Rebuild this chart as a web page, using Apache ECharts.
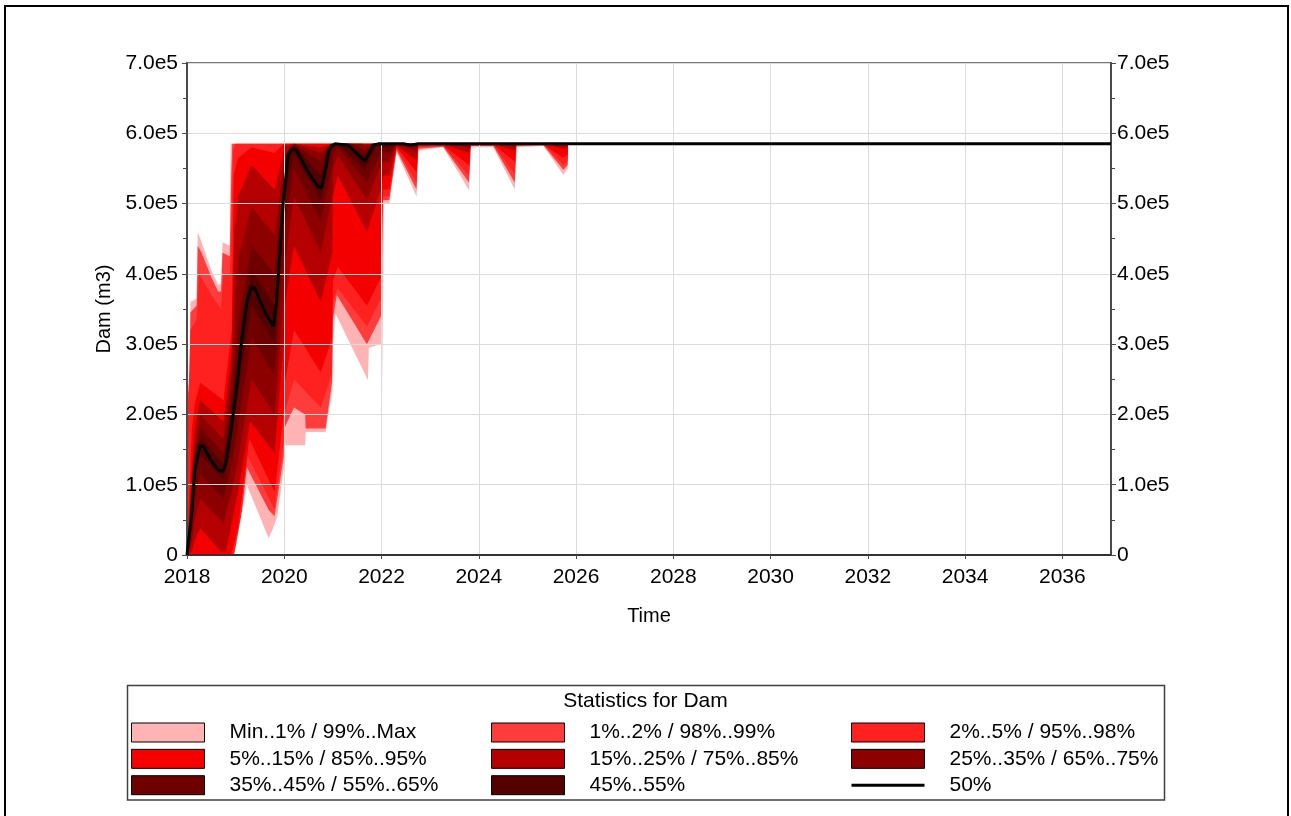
<!DOCTYPE html>
<html>
<head>
<meta charset="utf-8">
<script src="https://cdn.jsdelivr.net/npm/echarts@6/dist/echarts.min.js"></script>
<style>
  html, body { margin: 0; padding: 0; background: #ffffff; }
  #chart { width: 1291px; height: 816px; }
</style>
</head>
<body>
<div id="chart"></div>
<script>
// Dam storage (m3) over time: percentile envelopes of the simulation runs.
// Each curve is a list of [year, volume] points.
const pMax = [[2018.00,0],[2018.02,240000],[2018.06,250000],[2018.07,360000],[2018.20,365000],[2018.22,460000],[2018.30,445000],[2018.50,405000],[2018.64,385000],[2018.70,385000],[2018.73,445000],[2018.88,440000],[2018.90,585000],[2037.00,585000]];
const p99 = [[2018.00,0],[2018.02,230000],[2018.06,240000],[2018.07,345000],[2018.20,355000],[2018.22,440000],[2018.30,430000],[2018.50,395000],[2018.64,375000],[2018.70,375000],[2018.73,430000],[2018.88,425000],[2018.91,540000],[2018.93,585000],[2037.00,585000]];
const p98 = [[2018.00,0],[2018.02,200000],[2018.07,320000],[2018.20,335000],[2018.25,400000],[2018.50,370000],[2018.70,350000],[2018.75,400000],[2018.88,400000],[2018.92,480000],[2018.95,575000],[2019.00,585000],[2037.00,585000]];
const p95 = [[2018.00,0],[2018.10,180000],[2018.16,215000],[2018.27,245000],[2018.75,220000],[2018.92,320000],[2018.96,540000],[2019.05,565000],[2019.33,580000],[2019.80,572000],[2019.99,585000],[2037.00,585000]];
const p85 = [[2018.00,0],[2018.10,120000],[2018.16,180000],[2018.27,220000],[2018.75,190000],[2018.92,290000],[2018.97,460000],[2019.05,510000],[2019.33,555000],[2019.80,520000],[2019.99,575000],[2020.02,582000],[2020.20,585000],[2020.75,580000],[2020.99,585000],[2037.00,585000]];
const p75 = [[2018.00,0],[2018.10,95000],[2018.16,160000],[2018.27,200000],[2018.75,165000],[2018.92,260000],[2019.00,380000],[2019.05,420000],[2019.33,495000],[2019.80,455000],[2019.99,555000],[2020.02,570000],[2020.20,585000],[2020.75,572000],[2020.99,585000],[2021.60,585000],[2021.66,582000],[2021.80,585000],[2037.00,585000]];
const p65 = [[2018.00,0],[2018.10,80000],[2018.16,145000],[2018.27,182000],[2018.75,145000],[2018.92,230000],[2019.05,330000],[2019.33,440000],[2019.80,400000],[2019.99,535000],[2020.02,560000],[2020.20,584000],[2020.75,560000],[2020.99,585000],[2021.40,585000],[2021.66,575000],[2021.85,585000],[2037.00,585000]];
const p55 = [[2018.00,0],[2018.10,70000],[2018.16,132000],[2018.27,168000],[2018.75,130000],[2018.92,205000],[2019.05,285000],[2019.23,372000],[2019.33,405000],[2019.80,355000],[2019.99,515000],[2020.02,555000],[2020.08,575000],[2020.20,583000],[2020.75,540000],[2020.95,585000],[2021.30,585000],[2021.66,568000],[2021.85,585000],[2037.00,585000]];
const p50 = [[2018.00,0],[2018.10,62000],[2018.16,123000],[2018.27,156000],[2018.34,154000],[2018.51,133000],[2018.64,121000],[2018.75,119000],[2018.82,138000],[2018.92,185000],[2019.02,237000],[2019.12,303000],[2019.23,360000],[2019.33,382000],[2019.40,379000],[2019.60,346000],[2019.78,325000],[2019.84,360000],[2019.91,431000],[2019.98,503000],[2020.08,569000],[2020.15,578000],[2020.25,576000],[2020.49,545000],[2020.70,524000],[2020.77,522000],[2020.84,545000],[2020.91,576000],[2021.04,585000],[2021.32,583000],[2021.66,560000],[2021.83,583000],[2021.93,585000],[2022.45,585000],[2022.60,583000],[2022.75,585000],[2037.00,585000]];
const p45 = [[2018.00,0],[2018.10,50000],[2018.16,110000],[2018.27,142000],[2018.75,108000],[2018.92,165000],[2019.05,230000],[2019.33,355000],[2019.80,300000],[2019.99,480000],[2020.02,510000],[2020.20,570000],[2020.75,505000],[2020.99,580000],[2021.10,584000],[2021.66,548000],[2021.90,582000],[2022.03,580000],[2022.16,580000],[2022.31,585000],[2022.72,583000],[2022.76,585000],[2037.00,585000]];
const p35 = [[2018.00,0],[2018.10,35000],[2018.16,80000],[2018.27,115000],[2018.75,80000],[2018.92,130000],[2019.05,185000],[2019.33,310000],[2019.80,255000],[2019.99,430000],[2020.02,470000],[2020.20,550000],[2020.75,475000],[2020.99,555000],[2021.00,570000],[2021.10,580000],[2021.70,530000],[2021.99,572000],[2022.03,572000],[2022.16,572000],[2022.31,585000],[2022.72,580000],[2022.76,585000],[2037.00,585000]];
const p25 = [[2018.00,0],[2018.10,20000],[2018.16,50000],[2018.27,80000],[2018.75,45000],[2018.92,90000],[2019.05,135000],[2019.33,250000],[2019.80,200000],[2019.99,370000],[2020.02,420000],[2020.20,510000],[2020.75,430000],[2020.99,510000],[2021.00,550000],[2021.10,568000],[2021.70,505000],[2021.99,555000],[2022.03,560000],[2022.16,560000],[2022.31,584000],[2022.72,574000],[2022.76,585000],[2023.27,585000],[2023.80,580000],[2023.84,585000],[2024.30,585000],[2024.74,582000],[2024.78,585000],[2037.00,585000]];
const p15 = [[2018.00,0],[2018.10,5000],[2018.16,20000],[2018.27,38000],[2018.70,5000],[2018.80,5000],[2018.92,45000],[2019.05,90000],[2019.30,190000],[2019.80,145000],[2019.99,300000],[2020.02,360000],[2020.20,440000],[2020.75,360000],[2020.99,430000],[2021.00,510000],[2021.10,540000],[2021.70,460000],[2021.99,520000],[2022.03,540000],[2022.16,540000],[2022.31,582000],[2022.72,562000],[2022.76,584000],[2023.27,584000],[2023.80,572000],[2023.84,585000],[2024.30,585000],[2024.74,575000],[2024.78,585000],[2025.33,585000],[2025.74,578000],[2025.83,580000],[2025.84,585000],[2037.00,585000]];
const p5 = [[2018.00,0],[2018.90,0],[2018.95,10000],[2019.05,40000],[2019.28,165000],[2019.80,90000],[2019.99,200000],[2020.00,240000],[2020.20,320000],[2020.75,260000],[2020.99,310000],[2021.00,390000],[2021.10,410000],[2021.70,355000],[2021.99,395000],[2022.03,520000],[2022.16,520000],[2022.31,580000],[2022.72,545000],[2022.76,582000],[2023.27,583000],[2023.80,555000],[2023.84,584000],[2024.30,584000],[2024.74,560000],[2024.78,584000],[2025.33,584000],[2025.74,565000],[2025.83,570000],[2025.84,585000],[2037.00,585000]];
const p2 = [[2018.00,0],[2018.95,0],[2019.05,15000],[2019.25,140000],[2019.80,65000],[2019.99,160000],[2020.00,200000],[2020.20,250000],[2020.75,210000],[2020.99,260000],[2021.00,360000],[2021.10,380000],[2021.70,325000],[2021.99,365000],[2022.03,510000],[2022.16,510000],[2022.31,578000],[2022.72,530000],[2022.76,580000],[2023.27,582000],[2023.80,540000],[2023.84,583000],[2024.30,583000],[2024.74,542000],[2024.78,583000],[2025.33,584000],[2025.74,555000],[2025.83,560000],[2025.84,585000],[2037.00,585000]];
const p1 = [[2018.00,0],[2018.96,0],[2019.05,10000],[2019.23,125000],[2019.68,64000],[2019.80,55000],[2019.99,140000],[2020.00,180000],[2020.20,210000],[2020.43,200000],[2020.44,180000],[2020.85,180000],[2020.99,250000],[2021.00,335000],[2021.08,370000],[2021.70,300000],[2021.99,340000],[2022.03,505000],[2022.16,505000],[2022.31,576000],[2022.72,520000],[2022.76,578000],[2023.27,581000],[2023.80,530000],[2023.84,582000],[2024.30,582000],[2024.74,530000],[2024.78,582000],[2025.33,583000],[2025.74,548000],[2025.83,555000],[2025.84,585000],[2037.00,585000]];
const pMin = [[2018.00,0],[2018.97,0],[2019.23,100000],[2019.68,24000],[2019.75,35000],[2019.86,55000],[2019.99,125000],[2020.00,156000],[2020.43,156000],[2020.44,175000],[2020.85,175000],[2020.99,235000],[2021.00,300000],[2021.05,344000],[2021.72,249000],[2021.74,295000],[2021.99,300000],[2022.01,230000],[2022.04,230000],[2022.05,500000],[2022.16,500000],[2022.31,573000],[2022.72,510000],[2022.76,575000],[2023.00,578000],[2023.27,580000],[2023.80,519000],[2023.84,580000],[2024.30,580000],[2024.74,520000],[2024.78,580000],[2025.33,582000],[2025.74,541000],[2025.83,550000],[2025.84,585000],[2037.00,585000]];

const bandNames = [
  'Min..1% / 99%..Max',
  '1%..2% / 98%..99%',
  '2%..5% / 95%..98%',
  '5%..15% / 85%..95%',
  '15%..25% / 75%..85%',
  '25%..35% / 65%..75%',
  '35%..45% / 55%..65%',
  '45%..55%'
];
const bandColors = ['#ffb3b3', '#ff3c3c', '#ff2020', '#f50000', '#b40000', '#8c0000', '#6e0000', '#550000'];
const medianName = '50%';
const yTickLabels = ['0', '1.0e5', '2.0e5', '3.0e5', '4.0e5', '5.0e5', '6.0e5', '7.0e5'];

const FONT = "'Liberation Sans', Arial, sans-serif";

// Each layer fills from the axis up to its curve; painting outermost first
// leaves every band between two neighbouring percentiles in its own colour.
const layers = [
  [pMax, 0], [p99, 1], [p98, 2], [p95, 3], [p85, 4], [p75, 5], [p65, 6], [p55, 7],
  [p45, 6], [p35, 5], [p25, 4], [p15, 3], [p5, 2], [p2, 1], [p1, 0]
];

const series = layers.map(([curve, band]) => ({
  type: 'line',
  name: bandNames[band],
  data: curve,
  color: bandColors[band],
  itemStyle: { color: bandColors[band] },
  symbol: 'none',
  lineStyle: { width: 0 },
  areaStyle: { color: bandColors[band], opacity: 1 },
  silent: true,
  z: 2
}));

// blank area below the minimum
series.push({
  type: 'line',
  name: 'floor',
  data: pMin,
  color: '#ffffff',
  symbol: 'none',
  lineStyle: { width: 0 },
  areaStyle: { color: '#ffffff', opacity: 1 },
  silent: true,
  z: 2
});

series.push({
  type: 'line',
  name: medianName,
  data: p50,
  color: '#000000',
  itemStyle: { color: '#000000' },
  symbol: 'none',
  lineStyle: { color: '#000000', width: 3 },
  silent: true,
  z: 6
});

const swatch = name => ({ name, icon: 'rect', itemStyle: { borderColor: '#000', borderWidth: 1 } });
// a 3px bar centred in a 73x19 box (two tiny corner marks fix the box size)
const lineIcon = 'path://M0,0h0.01v0.01h-0.01z M72.99,18.99h0.01v0.01h-0.01z M0,8h73v3h-73z';
const legendCommon = {
  orient: 'vertical',
  itemWidth: 73,
  itemHeight: 19,
  itemGap: 5.35,
  padding: 0,
  top: 722,
  selectedMode: false,
  textStyle: { fontFamily: FONT, fontSize: 21, color: '#000', lineHeight: 19, padding: [0, 0, 0, 20] }
};

const yAxisCommon = {
  type: 'value',
  min: 0,
  max: 700000,
  interval: 100000,
  z: 4,
  axisLine: { show: true, lineStyle: { color: '#4a4a4a', width: 2 } },
  axisTick: { show: true, length: 5, lineStyle: { color: '#4a4a4a', width: 1 } },
  minorTick: { show: true, splitNumber: 2, length: 4, lineStyle: { color: '#4a4a4a', width: 1 } },
  axisLabel: {
    fontFamily: FONT, fontSize: 21, color: '#000',
    formatter: v => yTickLabels[Math.round(v / 100000)]
  }
};

const chart = echarts.init(document.getElementById('chart'), null, { renderer: 'canvas' });
chart.setOption({
  animation: false,
  backgroundColor: '#ffffff',
  title: {
    text: 'Statistics for Dam',
    left: 'center',
    top: 691,
    padding: 0,
    textStyle: { fontFamily: FONT, fontSize: 21, fontWeight: 'normal', color: '#000', lineHeight: 21 }
  },
  grid: {
    left: 187, top: 63, width: 924, height: 492,
    show: true, borderColor: '#4a4a4a', borderWidth: 1.5, backgroundColor: 'transparent'
  },
  xAxis: {
    type: 'value',
    min: 2018,
    max: 2037,
    interval: 2,
    z: 4,
    name: 'Time',
    nameLocation: 'middle',
    nameGap: 51,
    nameTextStyle: { fontFamily: FONT, fontSize: 20, color: '#000' },
    axisLine: { show: true, onZero: false, lineStyle: { color: '#333', width: 2 } },
    axisTick: { show: true, length: 4, lineStyle: { color: '#4a4a4a', width: 1 } },
    axisLabel: {
      fontFamily: FONT, fontSize: 21, color: '#000', margin: 12,
      showMaxLabel: false,
      formatter: v => String(Math.round(v))
    },
    splitLine: { show: true, lineStyle: { color: '#dcdcdc', width: 1 } }
  },
  yAxis: [
    Object.assign({}, yAxisCommon, {
      position: 'left',
      name: 'Dam (m3)',
      nameLocation: 'middle',
      nameGap: 72,
      nameTextStyle: { fontFamily: FONT, fontSize: 20, color: '#000' },
      axisLabel: Object.assign({}, yAxisCommon.axisLabel, { margin: 9 }),
      splitLine: { show: true, lineStyle: { color: '#dcdcdc', width: 1 } }
    }),
    Object.assign({}, yAxisCommon, {
      position: 'right',
      axisLabel: Object.assign({}, yAxisCommon.axisLabel, { margin: 6 }),
      splitLine: { show: false }
    })
  ],
  legend: [
    Object.assign({}, legendCommon, { left: 131, data: [swatch(bandNames[0]), swatch(bandNames[3]), swatch(bandNames[6])] }),
    Object.assign({}, legendCommon, { left: 491, data: [swatch(bandNames[1]), swatch(bandNames[4]), swatch(bandNames[7])] }),
    Object.assign({}, legendCommon, {
      left: 851,
      data: [swatch(bandNames[2]), swatch(bandNames[5]),
        { name: medianName, icon: lineIcon, itemStyle: { color: '#000', borderWidth: 0 } }]
    })
  ],
  graphic: [
    {
      type: 'rect', silent: true, z: 0,
      shape: { x: 5, y: 6, width: 1283, height: 830 },
      style: { fill: null, stroke: '#000', lineWidth: 2 }
    },
    {
      type: 'rect', silent: true, z: 0,
      shape: { x: 127.5, y: 685.5, width: 1037, height: 114.5 },
      style: { fill: null, stroke: '#404040', lineWidth: 1.5 }
    }
  ],
  series: series
});
</script>
</body>
</html>
